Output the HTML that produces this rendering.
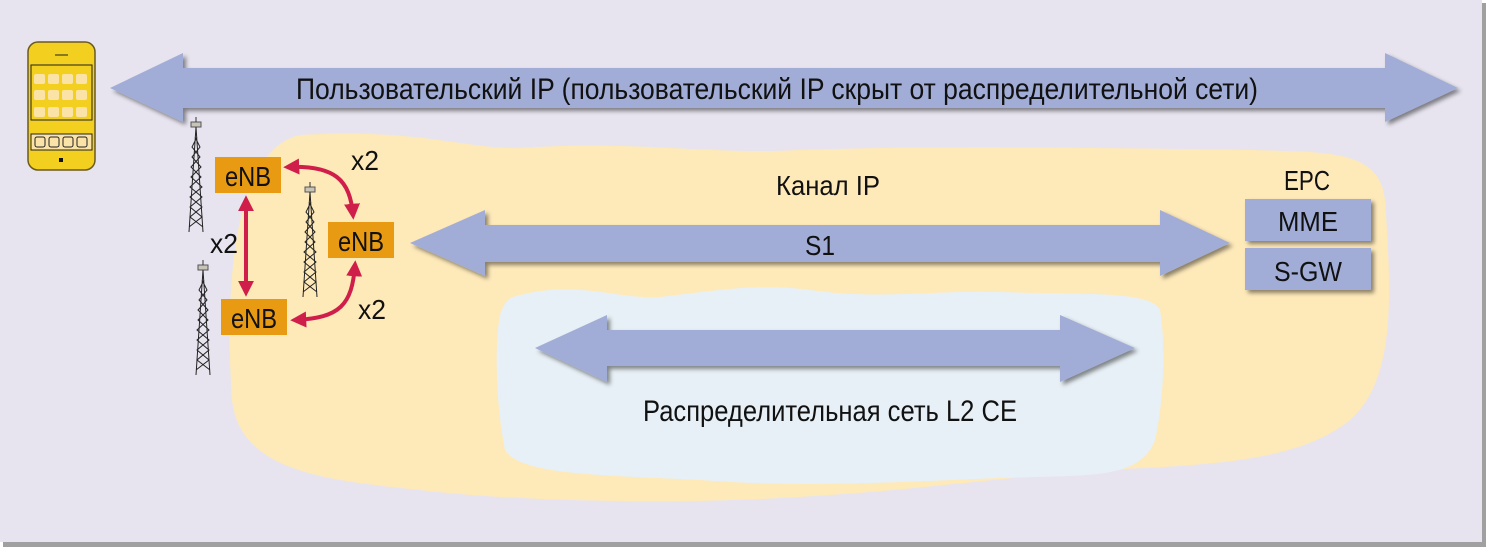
<!DOCTYPE html>
<html><head><meta charset="utf-8"><style>
html,body{margin:0;padding:0;background:#fff;}
svg{display:block;}
text{font-family:"Liberation Sans Narrow","Liberation Sans",sans-serif;fill:#111;}
</style></head><body>
<svg width="1494" height="556" viewBox="0 0 1494 556" xmlns="http://www.w3.org/2000/svg">
<defs>
<filter id="sh" x="-10%" y="-30%" width="130%" height="170%"><feDropShadow dx="3" dy="3" stdDeviation="2" flood-color="#000" flood-opacity="0.45"/></filter>
<marker id="ah" viewBox="0 0 10 10" refX="7" refY="5" markerWidth="4" markerHeight="4" orient="auto-start-reverse"><path d="M0,0 L10,5 L0,10 z" fill="#d01e4a"/></marker>
<g id="tower">
<rect x="-5" y="0" width="10" height="5" fill="#c8c4b8" stroke="#555" stroke-width="1"/>
<line x1="0" y1="-5" x2="0" y2="0" stroke="#333"/>
<path d="M0,5 L-7,110 M0,5 L7,110 M-1,15 L4,25 L-4,35 L5,45 L-5,55 L6,65 L-6,75 L6,85 L-6,95 L7,105 M1,15 L-4,25 L4,35 L-5,45 L5,55 L-6,65 L6,75 L-6,85 L6,95 L-7,105" stroke="#222" stroke-width="1" fill="none"/>
</g>
</defs>
<rect x="0" y="0" width="1494" height="556" fill="#fff"/>
<rect x="3" y="3" width="1483" height="544" fill="#a0a0a0"/>
<rect x="0" y="0" width="1482" height="542" fill="#e7e4ef"/>
<path d="M300,135 C420,128 470,150 520,148 C640,140 700,155 800,150 C950,145 1100,148 1250,150 C1330,152 1380,150 1385,200 C1392,300 1395,380 1350,420 C1300,460 1220,465 1100,470 C980,480 900,492 780,498 C650,505 500,500 420,490 C320,480 240,470 232,400 C225,300 230,150 300,135 Z" fill="#fee9b9"/>
<path d="M520,295 C580,280 620,300 660,297 C720,290 760,283 810,290 C880,300 930,290 1000,292 C1080,295 1150,290 1160,310 C1168,360 1160,420 1155,440 C1140,480 1090,475 1000,478 C900,482 800,488 700,480 C600,475 520,475 505,450 C495,400 495,340 500,315 C505,300 510,297 520,295 Z" fill="#e7f0f6"/>
<path d="M110,88 L183,53 L183,68 L1385,68 L1385,53 L1458,88 L1385,122 L1385,108 L183,108 L183,122 Z" fill="#a1add6" filter="url(#sh)"/>
<text x="777" y="99" font-size="30" text-anchor="middle" textLength="962" lengthAdjust="spacingAndGlyphs">Пользовательский IP (пользовательский IP скрыт от распределительной сети)</text>
<path d="M410,243 L485,210 L485,225 L1160,225 L1160,210 L1230,243 L1160,276 L1160,262 L485,262 L485,276 Z" fill="#a1add6" filter="url(#sh)"/>
<text x="820" y="255" font-size="28" text-anchor="middle" textLength="30" lengthAdjust="spacingAndGlyphs">S1</text>
<text x="828" y="195" font-size="28" text-anchor="middle" textLength="104" lengthAdjust="spacingAndGlyphs">Канал IP</text>
<path d="M535,348 L607,315 L607,330 L1060,330 L1060,315 L1135,348 L1060,382 L1060,366 L607,366 L607,382 Z" fill="#a1add6" filter="url(#sh)"/>
<text x="830" y="421" font-size="30" text-anchor="middle" textLength="374" lengthAdjust="spacingAndGlyphs">Распределительная сеть L2 CE</text>
<text x="1307" y="190" font-size="28" text-anchor="middle" textLength="46" lengthAdjust="spacingAndGlyphs">EPC</text>
<rect x="1245" y="199" width="126" height="42" fill="#a1add6" filter="url(#sh)"/>
<text x="1308" y="231" font-size="28" text-anchor="middle" textLength="60" lengthAdjust="spacingAndGlyphs">MME</text>
<rect x="1245" y="248" width="126" height="42" fill="#a1add6" filter="url(#sh)"/>
<text x="1308" y="281" font-size="28" text-anchor="middle" textLength="68" lengthAdjust="spacingAndGlyphs">S-GW</text>
<rect x="28" y="42" width="67" height="128" rx="10" fill="#f3cf1f" stroke="#6a5a20" stroke-width="1.5"/>
<line x1="55" y1="55" x2="68" y2="55" stroke="#222"/>
<rect x="31" y="65" width="61" height="55" fill="#f3cf1f" stroke="#222" stroke-width="1"/>
<g fill="#fbe3a8">
<rect x="34" y="74" width="11" height="10" rx="2"/><rect x="48" y="74" width="11" height="10" rx="2"/><rect x="62" y="74" width="11" height="10" rx="2"/><rect x="76" y="74" width="11" height="10" rx="2"/>
<rect x="34" y="90" width="11" height="10" rx="2"/><rect x="48" y="90" width="11" height="10" rx="2"/><rect x="62" y="90" width="11" height="10" rx="2"/><rect x="76" y="90" width="11" height="10" rx="2"/>
<rect x="34" y="107" width="11" height="10" rx="2"/><rect x="48" y="107" width="11" height="10" rx="2"/><rect x="62" y="107" width="11" height="10" rx="2"/><rect x="76" y="107" width="11" height="10" rx="2"/>
</g>
<rect x="31" y="134" width="61" height="16" fill="#fbe3a8" stroke="#222"/>
<g fill="none" stroke="#222"><rect x="35" y="137" width="10" height="10" rx="2"/><rect x="49" y="137" width="10" height="10" rx="2"/><rect x="63" y="137" width="10" height="10" rx="2"/><rect x="77" y="137" width="10" height="10" rx="2"/></g>
<rect x="59" y="158" width="4" height="4" fill="#111"/>
<use href="#tower" x="196" y="122"/>
<use href="#tower" x="203" y="265"/>
<use href="#tower" x="310" y="187"/>
<rect x="215" y="157" width="66" height="36" fill="#e89a12"/>
<text x="248" y="186" font-size="28" text-anchor="middle" textLength="46" lengthAdjust="spacingAndGlyphs">eNB</text>
<rect x="328" y="222" width="66" height="36" fill="#e89a12"/>
<text x="361" y="251" font-size="28" text-anchor="middle" textLength="46" lengthAdjust="spacingAndGlyphs">eNB</text>
<rect x="221" y="299" width="66" height="36" fill="#e89a12"/>
<text x="254" y="328" font-size="28" text-anchor="middle" textLength="46" lengthAdjust="spacingAndGlyphs">eNB</text>
<g stroke="#d01e4a" stroke-width="4" fill="none" marker-start="url(#ah)" marker-end="url(#ah)">
<line x1="246" y1="200" x2="246" y2="292"/>
<path d="M288,167 C335,165 350,180 353,215"/>
<path d="M295,320 C340,318 352,305 355,265"/>
</g>
<text x="351" y="170" font-size="28" textLength="28" lengthAdjust="spacingAndGlyphs">x2</text>
<text x="210" y="253" font-size="28" textLength="28" lengthAdjust="spacingAndGlyphs">x2</text>
<text x="358" y="319" font-size="28" textLength="28" lengthAdjust="spacingAndGlyphs">x2</text>
</svg>
</body></html>
